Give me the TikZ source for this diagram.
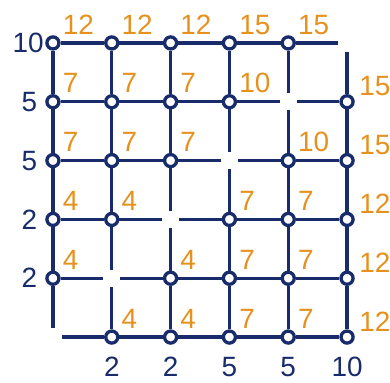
\documentclass[tikz,border=0pt]{standalone}
\usepackage{fontspec}
\setmainfont{Liberation Sans}
\definecolor{gridblue}{RGB}{24,44,108}
\definecolor{valorange}{RGB}{230,145,30}
\begin{document}
\begin{tikzpicture}[line width=1.6pt,
    dot/.style={circle, draw=gridblue, fill=white, inner sep=0pt, minimum size=0.205cm},
    gap/.style={circle, inner sep=0pt, minimum size=0.24cm},
    gridline/.style={draw=gridblue},
    val/.style={text=valorange, anchor=base west, inner sep=0pt, font=\fontsize{13.5}{16}\selectfont},
    side/.style={text=gridblue, inner sep=0pt, font=\fontsize{13.5}{16}\selectfont}]
    \useasboundingbox (-0.90,-0.78) rectangle (5.73,5.73);

    % Grid points (the diagonal ones are left open)
    \foreach \i in {0,...,5}
        \foreach \j in {0,...,5} {
            \ifnum\i=\j
                \node[gap] (p-\i-\j) at (\i,\j) {};
            \else
                \node[dot] (p-\i-\j) at (\i,\j) {};
            \fi
        }

    % Grid lines
    \foreach \i in {0,...,5}
        \foreach \j in {0,...,4} {
            \pgfmathtruncatemacro{\k}{\j+1}
            \draw[gridline] (p-\i-\j) -- (p-\i-\k);
            \draw[gridline] (p-\j-\i) -- (p-\k-\i);
        }

    % Values at the points
    \foreach \i/\j/\v in {0/5/12, 1/5/12, 2/5/12, 3/5/15, 4/5/15,
                          0/4/7, 1/4/7, 2/4/7, 3/4/10,
                          0/3/7, 1/3/7, 2/3/7, 4/3/10,
                          0/2/4, 1/2/4, 3/2/7, 4/2/7,
                          0/1/4, 2/1/4, 3/1/7, 4/1/7,
                          1/0/4, 2/0/4, 3/0/7, 4/0/7}
        \node[val] (v-\i-\j) at (\i+0.14,\j+0.15) {\v};
    \foreach \j/\v in {4/15, 3/15, 2/12, 1/12, 0/12}
        \node[val] (v-5-\j) at (5.18,\j+0.1) {\v};

    % Row and column labels
    \foreach \j/\v/\x in {5/10/-0.13, 4/5/-0.24, 3/5/-0.24, 2/2/-0.24, 1/2/-0.24}
        \node[side, anchor=east] (row-\j) at (\x,\j) {\v};
    \foreach \i/\v in {1/2, 2/2, 3/5, 4/5, 5/10}
        \node[side, anchor=north] (col-\i) at (\i,-0.31) {\v};
\end{tikzpicture}
\end{document}
